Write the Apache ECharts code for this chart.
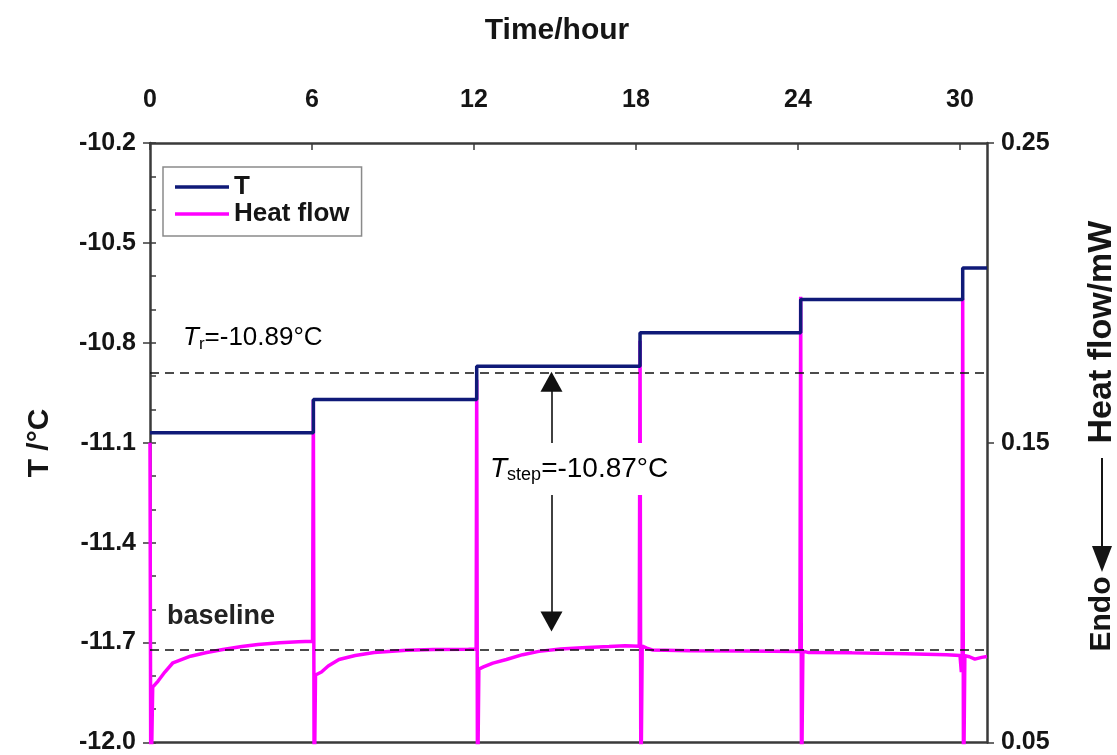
<!DOCTYPE html>
<html>
<head>
<meta charset="utf-8">
<script src="https://cdn.jsdelivr.net/npm/echarts@6/dist/echarts.min.js"></script>
<style>
  html, body { margin: 0; padding: 0; background: #ffffff; }
  #chart { width: 1117px; height: 755px; }
</style>
</head>
<body>
<div id="chart"></div>
<script>
// Temperature program: start time of each step (h) and the step temperature (°C)
const stepStart = [0, 6.05, 12.1, 18.15, 24.1, 30.1];
const stepTemp = [-11.07, -10.97, -10.87, -10.77, -10.67, -10.575];
const runEnd = 31;

// Heat flow trace: time (h) and heat flow (mW)
const hfTime = [
  0, 0.03, 0.1, 0.3, 0.55, 0.85, 1.5, 2.1, 2.7, 3.4, 4.0, 4.8, 5.5, 6.02,
  6.05, 6.08, 6.13, 6.35, 6.6, 7.0, 7.6, 8.3, 9.5, 10.5, 11.8, 12.08,
  12.1, 12.13, 12.18, 12.35, 12.7, 13.2, 13.8, 14.4, 15.2, 16.0, 17.0, 17.6, 18.12,
  18.15, 18.18, 18.23, 18.4, 18.6, 20.0, 22.0, 24.07,
  24.1, 24.13, 24.18, 24.4, 26.0, 28.0, 29.5, 30.0, 30.05, 30.08,
  30.1, 30.13, 30.18, 30.35, 30.55, 30.8, 31.0
];
const hfValue = [
  0.150, 0.030, 0.0685, 0.0705, 0.0735, 0.0766, 0.0788, 0.0800, 0.0810, 0.0820, 0.0827, 0.0833, 0.0836, 0.0838,
  0.1643, 0.030, 0.0725, 0.0735, 0.0755, 0.0777, 0.0790, 0.0800, 0.0808, 0.0810, 0.0811, 0.0812,
  0.171, 0.030, 0.0745, 0.0752, 0.0765, 0.0777, 0.0793, 0.0804, 0.0812, 0.0816, 0.0820, 0.0823, 0.0821,
  0.184, 0.030, 0.0822, 0.0815, 0.0809, 0.0806, 0.0805, 0.0804,
  0.1987, 0.030, 0.0805, 0.0800, 0.0799, 0.0796, 0.0793, 0.0790, 0.0735, 0.0790,
  0.198, 0.030, 0.0790, 0.0786, 0.0778, 0.0784, 0.0787
];

// Axis tick labels
const timeTicks = [0, 6, 12, 18, 24, 30];
const flowTicks = [0.05, 0.15, 0.25];

// Reference lines and the step arrow (°C / mW / h)
const T_R = -10.89;
const T_STEP = -10.87;
const BASELINE_FLOW = 0.081;
const arrowTime = 14.87;
const arrowTop = -10.917;
const arrowBottom = -11.637;

const FONT = '"Liberation Sans", Arial, sans-serif';
const AXIS_COLOR = '#3a3a3a';
const TEXT_COLOR = '#151515';
const NOTE_COLOR = '#222222';
const T_COLOR = '#0f1a78';
const HF_COLOR = '#ff00ff';
const DASH = { color: '#111', type: [9, 6], width: 1.6 };

// Step line for T: hold each temperature until the next step starts
const tData = [];
stepStart.forEach((t, i) => {
  const tEnd = i + 1 < stepStart.length ? stepStart[i + 1] : runEnd;
  tData.push([t, stepTemp[i]]);
  tData.push([tEnd, stepTemp[i]]);
});
const hfData = hfTime.map((t, i) => [t, hfValue[i]]);

const chart = echarts.init(document.getElementById('chart'), null, { renderer: 'canvas' });

const tickLabel = {
  fontFamily: FONT, fontWeight: 'bold', fontSize: 25, color: TEXT_COLOR
};
const centered = { textAlign: 'center', textVerticalAlign: 'middle', align: 'center', verticalAlign: 'middle' };
const leftMid = { textAlign: 'left', textVerticalAlign: 'middle', align: 'left', verticalAlign: 'middle' };

chart.setOption({
  backgroundColor: '#ffffff',
  animation: false,
  grid: { left: 150, right: 130, top: 143, bottom: 12, containLabel: false },
  legend: {
    data: [{ name: 'T', icon: 'rect' }, { name: 'Heat flow', icon: 'rect' }],
    orient: 'vertical',
    left: 163, top: 167,
    padding: [7, 12, 9, 12],
    itemGap: 1,
    itemWidth: 54,
    itemHeight: 3.5,
    borderColor: '#8a8a8a',
    borderWidth: 1.5,
    backgroundColor: '#ffffff',
    selectedMode: false,
    textStyle: { fontFamily: FONT, fontWeight: 'bold', fontSize: 26, color: TEXT_COLOR }
  },
  xAxis: [
    {
      type: 'value', position: 'top', min: 0, max: runEnd,
      axisLine: { show: true, lineStyle: { color: AXIS_COLOR, width: 2.5 } },
      axisTick: { show: true, inside: true, length: 7, customValues: timeTicks,
                  lineStyle: { color: AXIS_COLOR, width: 1.5 } },
      axisLabel: { customValues: timeTicks, margin: 30, ...tickLabel },
      splitLine: { show: false }
    },
    {
      type: 'value', position: 'bottom', min: 0, max: runEnd,
      axisLine: { show: true, onZero: false, lineStyle: { color: AXIS_COLOR, width: 2.5 } },
      axisTick: { show: false }, axisLabel: { show: false }, splitLine: { show: false }
    }
  ],
  yAxis: [
    {
      type: 'value', position: 'left', min: -12.0, max: -10.2, interval: 0.3,
      axisLine: { show: true, onZero: false, lineStyle: { color: AXIS_COLOR, width: 2.5 } },
      axisTick: { show: true, length: 7, lineStyle: { color: AXIS_COLOR, width: 1.5 } },
      axisLabel: { margin: 14, formatter: v => v.toFixed(1), ...tickLabel },
      splitLine: { show: false }
    },
    {
      type: 'value', position: 'right', min: 0.05, max: 0.25, interval: 0.1,
      axisLine: { show: true, onZero: false, lineStyle: { color: AXIS_COLOR, width: 2.5 } },
      axisTick: { show: true, length: 7, customValues: flowTicks,
                  lineStyle: { color: AXIS_COLOR, width: 1.5 } },
      axisLabel: { margin: 14, customValues: flowTicks, formatter: v => v.toFixed(2), ...tickLabel },
      splitLine: { show: false }
    },
    {
      // minor ticks of the temperature axis, pointing into the plot
      type: 'value', position: 'left', min: -12.0, max: -10.2, interval: 0.1,
      axisLine: { show: false },
      axisTick: { show: true, inside: true, length: 6, lineStyle: { color: AXIS_COLOR, width: 1.5 } },
      axisLabel: { show: false }, splitLine: { show: false }
    }
  ],
  series: [
    {
      name: 'Heat flow', type: 'line', xAxisIndex: 0, yAxisIndex: 1,
      data: hfData, showSymbol: false, symbol: 'none', clip: true,
      lineStyle: { color: HF_COLOR, width: 3.5 }, itemStyle: { color: HF_COLOR },
      z: 2,
      markLine: {
        silent: true, symbol: ['none', 'none'], animation: false,
        label: { show: false },
        lineStyle: DASH,
        data: [[{ coord: [0, BASELINE_FLOW] }, { coord: [runEnd, BASELINE_FLOW] }]]
      }
    },
    {
      name: 'T', type: 'line', xAxisIndex: 0, yAxisIndex: 0,
      data: tData, showSymbol: false, symbol: 'none', clip: true,
      lineStyle: { color: T_COLOR, width: 3.5 }, itemStyle: { color: T_COLOR },
      z: 3,
      markLine: {
        silent: true, animation: false,
        symbol: ['none', 'none'],
        label: { show: false },
        itemStyle: { color: '#111' },
        data: [
          [
            { coord: [0, T_R], lineStyle: DASH },
            { coord: [runEnd, T_R] }
          ],
          [
            { coord: [arrowTime, arrowTop], symbol: 'triangle', symbolSize: [22, 20],
              lineStyle: { color: '#111', type: 'solid', width: 1.6 } },
            { coord: [arrowTime, arrowBottom], symbol: 'triangle', symbolSize: [22, 20] }
          ]
        ]
      }
    }
  ],
  graphic: [
    {
      type: 'text', x: 557, y: 31,
      style: { text: 'Time/hour', font: 'bold 30px ' + FONT, fill: TEXT_COLOR, ...centered }
    },
    {
      type: 'text', x: 40, y: 443, rotation: Math.PI / 2,
      style: { text: 'T /°C', font: 'bold 30px ' + FONT, fill: TEXT_COLOR, ...centered }
    },
    {
      type: 'text', x: 1102, y: 332, rotation: Math.PI / 2,
      style: { text: 'Heat flow/mW', font: 'bold 34px ' + FONT, fill: TEXT_COLOR, ...centered }
    },
    {
      type: 'line', shape: { x1: 1102, y1: 458, x2: 1102, y2: 550 },
      style: { stroke: TEXT_COLOR, lineWidth: 2 }
    },
    {
      type: 'polygon', shape: { points: [[1092, 546], [1112, 546], [1102, 572]] },
      style: { fill: TEXT_COLOR }
    },
    {
      type: 'text', x: 1102, y: 614, rotation: Math.PI / 2,
      style: { text: 'Endo', font: 'bold 30px ' + FONT, fill: TEXT_COLOR, ...centered }
    },
    {
      type: 'text', x: 167, y: 617, z: 10,
      style: { text: 'baseline', font: 'bold 27px ' + FONT, fill: NOTE_COLOR, ...leftMid }
    },
    {
      type: 'text', x: 183, y: 338, z: 10,
      style: {
        text: '{i|T}{s|r}{n|=-10.89°C}',
        ...leftMid,
        rich: {
          i: { fontFamily: FONT, fontSize: 26, fontStyle: 'italic', color: NOTE_COLOR, lineHeight: 30 },
          s: { fontFamily: FONT, fontSize: 17, color: NOTE_COLOR, verticalAlign: 'bottom', lineHeight: 14, padding: [12, 0, 0, 0] },
          n: { fontFamily: FONT, fontSize: 26, color: NOTE_COLOR, lineHeight: 30 }
        }
      }
    },
    {
      type: 'text', x: 490, y: 469, z: 10,
      style: {
        text: '{i|T}{s|step}{n|=-10.87°C}',
        backgroundColor: '#ffffff', padding: [11, 2, 11, 0],
        ...leftMid,
        rich: {
          i: { fontFamily: FONT, fontSize: 28, fontStyle: 'italic', color: NOTE_COLOR, lineHeight: 30 },
          s: { fontFamily: FONT, fontSize: 18, color: NOTE_COLOR, verticalAlign: 'bottom', lineHeight: 14, padding: [12, 0, 0, 0] },
          n: { fontFamily: FONT, fontSize: 28, color: NOTE_COLOR, lineHeight: 30 }
        }
      }
    }
  ]
});
</script>
</body>
</html>
